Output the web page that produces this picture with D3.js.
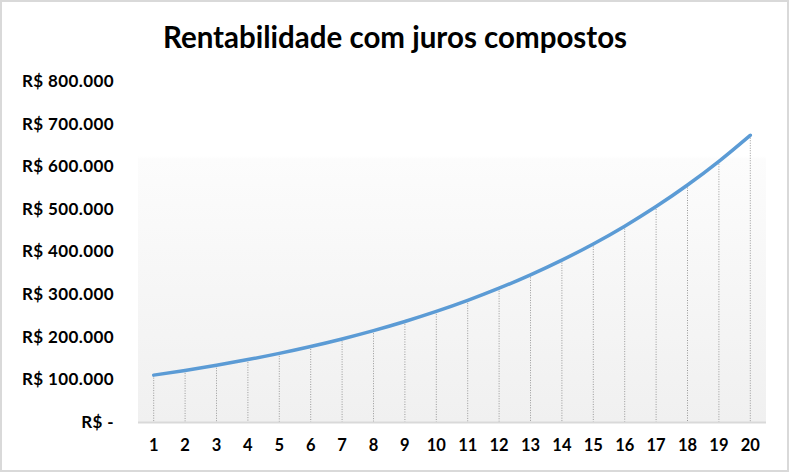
<!DOCTYPE html>
<html><head><meta charset="utf-8">
<script src="https://cdn.jsdelivr.net/npm/d3@7"></script>
<style>
html,body{margin:0;padding:0;background:#fff;}
svg{display:block;}
</style></head>
<body>
<svg id="chart" width="790" height="474"></svg>
<script>
const title = "Rentabilidade com juros compostos";
const years = [1,2,3,4,5,6,7,8,9,10,11,12,13,14,15,16,17,18,19,20];
const values = [110000,121000,133100,146410,161051,177156,194872,214359,235795,259374,
                285312,313843,345227,379750,417725,459497,505447,555992,611591,672750];
const yTicks = [0,100000,200000,300000,400000,500000,600000,700000,800000];

const svg = d3.select("#chart");
const W = 790, H = 474;
const m = {left:138, right:766, top:81, bottom:422};

const locale = d3.formatLocale({decimal:",", thousands:".", grouping:[3], currency:["R$ ",""]});
const fmt = locale.format(",.0f");
const yLabel = v => v === 0 ? "R$ -" : "R$ " + fmt(v);

// outer border
svg.append("rect").attr("x",1).attr("y",1).attr("width",W-3).attr("height",H-4)
  .attr("fill","#fff").attr("stroke","#d9d9d9").attr("stroke-width",2);

const x = d3.scaleBand().domain(years).range([m.left, m.right]);
const y = d3.scaleLinear().domain([0,800000]).range([m.bottom, m.top]);

// gradient background
const defs = svg.append("defs");
const g = defs.append("linearGradient").attr("id","bg").attr("x1",0).attr("y1",0).attr("x2",0).attr("y2",1);
g.append("stop").attr("offset","0").attr("stop-color","#ffffff");
g.append("stop").attr("offset","0.22").attr("stop-color","#ffffff");
g.append("stop").attr("offset","0.23").attr("stop-color","#fcfcfc");
g.append("stop").attr("offset","1").attr("stop-color","#f0f0f0");
svg.append("rect").attr("x",m.left).attr("y",m.top).attr("width",m.right-m.left).attr("height",m.bottom-m.top)
  .attr("fill","url(#bg)");

// title
svg.append("text").attr("x",395).attr("y",48).attr("text-anchor","middle")
  .attr("font-family","Lato, 'Open Sans', sans-serif").attr("font-weight","bold")
  .attr("font-size",29.5).attr("fill","#000").text(title);

// y axis labels
const yAxis = d3.axisLeft(y).tickValues(yTicks).tickFormat(yLabel).tickSize(0).tickPadding(0);
const ya = svg.append("g").attr("transform",`translate(114,0)`).call(yAxis);
ya.select(".domain").remove();
ya.selectAll("text").attr("font-family","Lato, 'Open Sans', sans-serif").attr("font-weight","bold")
  .attr("font-size",17).attr("letter-spacing","0.4px").attr("fill","#000");

// drop lines
const cx = d => x(d) + x.bandwidth()/2;
svg.append("g").selectAll("line").data(years).join("line")
  .attr("x1",(d)=>cx(d)).attr("x2",(d)=>cx(d))
  .attr("y1",(d,i)=>y(values[i])).attr("y2",m.bottom)
  .attr("stroke","#999999").attr("stroke-width",1).attr("stroke-dasharray","1,1.5");

// baseline
svg.append("line").attr("x1",m.left).attr("x2",m.right).attr("y1",m.bottom+0.5).attr("y2",m.bottom+0.5)
  .attr("stroke","#d9d9d9").attr("stroke-width",2);

// x axis labels
const xAxis = d3.axisBottom(x).tickSize(0).tickPadding(0);
const xa = svg.append("g").attr("transform",`translate(0,${m.bottom+17})`).call(xAxis);
xa.select(".domain").remove();
xa.selectAll("text").attr("font-family","Lato, 'Open Sans', sans-serif").attr("font-weight","bold")
  .attr("font-size",16.5).attr("fill","#000");

// line
const line = d3.line().x(d=>cx(d.x)).y(d=>y(d.v)).curve(d3.curveMonotoneX);
svg.append("path").datum(years.map((d,i)=>({x:d,v:values[i]})))
  .attr("d",line).attr("fill","none").attr("stroke","#5b9bd5").attr("stroke-width",3.5)
  .attr("stroke-linecap","round").attr("stroke-linejoin","round");
</script>
</body></html>
